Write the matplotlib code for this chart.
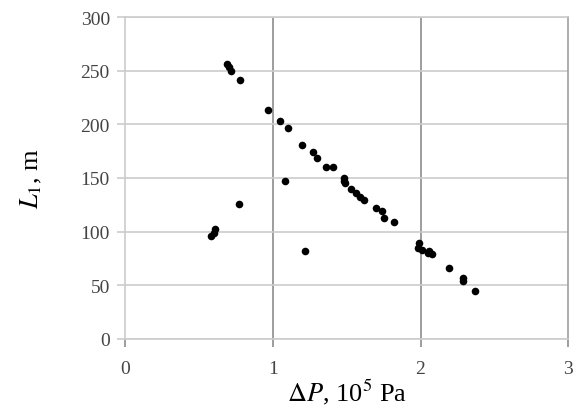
import matplotlib
matplotlib.use("Agg")
import matplotlib.pyplot as plt

# pressure drop, 10^5 Pa
dp = [0.69, 0.70, 0.72, 0.78, 0.97, 1.05, 1.10, 1.20, 1.27, 1.30, 1.36, 1.41,
      1.48, 1.48, 1.49, 1.53, 1.56, 1.59, 1.62, 1.70, 1.74, 1.75, 1.82,
      1.99, 1.98, 2.01, 2.05, 2.06, 2.08, 2.19, 2.29, 2.29, 2.37,
      0.58, 0.60, 0.61, 0.77, 1.08, 1.22]
# length L1, m
L1 = [256, 253, 250, 241, 213, 203, 197, 181, 174, 169, 160, 160,
      150, 147, 145, 140, 136, 132, 129, 122, 119, 113, 109,
      89, 85, 83, 80, 82, 79, 66, 57, 54, 45,
      96, 99, 102, 126, 147, 82]

plt.rcParams["font.family"] = ["Liberation Serif", "DejaVu Serif"]
plt.rcParams["mathtext.fontset"] = "stix"

fig = plt.figure(figsize=(5.74, 4.10), dpi=100)
ax = fig.add_axes([0.218, 0.171, 0.772, 0.785])

ax.scatter(dp, L1, s=30, color="black", zorder=3, linewidths=0)

ax.set_xlim(0, 3)
ax.set_ylim(0, 300)
ax.set_xticks([0, 1, 2, 3])
ax.set_yticks(range(0, 301, 50))

ax.yaxis.grid(True, color="#cccccc", linewidth=1.2)
for xv in [1, 2]:
    ax.axvline(xv, color="#8c8c8c", linewidth=1.2, zorder=1)

for side in ["left", "bottom", "top"]:
    ax.spines[side].set_color("#cccccc")
    ax.spines[side].set_linewidth(1.2)
ax.spines["right"].set_color("#a0a0a0")
ax.spines["right"].set_linewidth(1.2)

ax.tick_params(axis="y", length=6, color="#cccccc", width=1.2,
               labelsize=14, labelcolor="#444444", pad=5)
ax.tick_params(axis="x", length=6, color="#8c8c8c", width=1.2,
               labelsize=14, labelcolor="#444444", pad=9)

ax.set_xlabel(r"$\Delta P$, 10$^5$ Pa", fontsize=19, labelpad=0)
ax.set_ylabel(r"$L_1$, m", fontsize=19, labelpad=26)

fig.savefig("out.png", dpi=100)
